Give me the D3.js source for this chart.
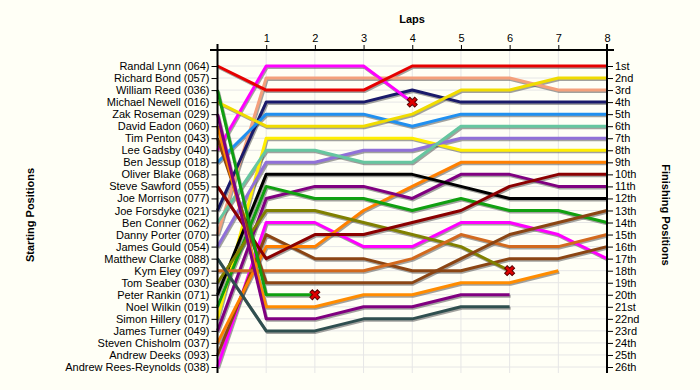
<!DOCTYPE html>
<html>
<head>
<meta charset="utf-8">
<script src="https://cdn.jsdelivr.net/npm/d3@7"></script>
<style>
  body { margin: 0; background: #fffff6; }
  text { font-family: "Liberation Sans", Arial, sans-serif; font-size: 11px; fill: #000; }
  .title { font-weight: bold; }
</style>
</head>
<body>
<svg id="chart" width="700" height="390"></svg>
<script>
// lap numbers on the top axis
const laps = [0, 1, 2, 3, 4, 5, 6, 7, 8];

const starters = [
  "Randal Lynn (064)", "Richard Bond (057)", "William Reed (036)", "Michael Newell (016)",
  "Zak Roseman (029)", "David Eadon (060)", "Tim Penton (043)", "Lee Gadsby (040)",
  "Ben Jessup (018)", "Oliver Blake (068)", "Steve Sawford (055)", "Joe Morrison (077)",
  "Joe Forsdyke (021)", "Ben Conner (062)", "Danny Porter (070)", "James Gould (054)",
  "Matthew Clarke (088)", "Kym Eley (097)", "Tom Seaber (030)", "Peter Rankin (071)",
  "Noel Wilkin (019)", "Simon Hillery (017)", "James Turner (049)", "Steven Chisholm (037)",
  "Andrew Deeks (093)", "Andrew Rees-Reynolds (038)"
];

const finishLabels = [
  "1st", "2nd", "3rd", "4th", "5th", "6th", "7th", "8th", "9th", "10th", "11th", "12th", "13th",
  "14th", "15th", "16th", "17th", "18th", "19th", "20th", "21st", "22nd", "23rd", "24th", "25th", "26th"
];

// position of each starter at the end of each lap (index = lap), same order as starters
const lapPositions = [
  [1, 3, 3, 3, 1, 1, 1, 1, 1],
  [2],
  [3, 20, 20],
  [4, 6, 6, 6, 5, 3, 3, 2, 2],
  [5, 22, 22, 21, 21, 20, 20],
  [6, 21, 21, 20, 20, 19, 19, 18],
  [7, 19, 19, 19, 19, 17, 15, 14, 13],
  [8, 1, 1, 1, 4],
  [9, 5, 5, 5, 6, 5, 5, 5, 5],
  [10],
  [11, 17, 15, 15, 14, 13, 11, 10, 10],
  [12],
  [13, 4, 4, 4, 3, 4, 4, 4, 4],
  [14, 8, 8, 9, 9, 6, 6, 6, 6],
  [15, 2, 2, 2, 2, 2, 2, 3, 3],
  [16, 9, 9, 8, 8, 7, 7, 7, 7],
  [17, 23, 23, 22, 22, 21, 21],
  [18, 18, 18, 18, 17, 15, 16, 16, 15],
  [19, 13, 13, 14, 15, 16, 18],
  [20, 10, 10, 10, 10, 11, 12, 12, 12],
  [21, 11, 12, 12, 13, 12, 13, 13, 14],
  [22, 7, 7, 7, 7, 8, 8, 8, 8],
  [23, 12, 11, 11, 12, 10, 10, 11, 11],
  [24, 16, 16, 13, 11, 9, 9, 9, 9],
  [25, 15, 17, 17, 18, 18, 17, 17, 16],
  [26, 14, 14, 16, 16, 14, 14, 15, 17]
];

// starters whose race ended with a crash marker on their last lap
const retired = ["William Reed (036)", "Lee Gadsby (040)", "Tom Seaber (030)"];

const lineColors = [
  "#e60000", "#999999", "#10a010", "#f0dc00", "#800080", "#ff8c00", "#8b4513", "#ff00ff",
  "#2090f0", "#999999", "#8b0000", "#999999", "#1a1a6a", "#66c6a0", "#f4a07c", "#9070d8",
  "#2f4f4f", "#d2691e", "#808000", "#000000", "#10a010", "#ffee00", "#800080", "#ff8000",
  "#8b4513", "#ff00ff"
];

const svg = d3.select("#chart");
svg.append("rect").attr("width", 700).attr("height", 390).attr("fill", "#fffff6");

const x = d3.scaleLinear().domain([0, 8]).range([217.5, 607]);
const y = d3.scaleLinear().domain([1, 26]).range([66, 367]);
const plotTop = 50, plotBottom = 373;

// grid
const grid = svg.append("g").attr("stroke", "#e6e6e6").attr("stroke-width", 1);
grid.selectAll("line.v").data(laps.slice(1, -1)).enter().append("line")
  .attr("x1", d => x(d)).attr("x2", d => x(d)).attr("y1", plotTop).attr("y2", plotBottom);
grid.selectAll("line.h").data(d3.range(1, 27)).enter().append("line")
  .attr("x1", x(0)).attr("x2", x(8)).attr("y1", d => y(d)).attr("y2", d => y(d));

// race lines
const line = d3.line()
  .x((d, i) => x(i))
  .y(d => y(d));

const drivers = starters.map((name, i) => ({ name, pos: lapPositions[i], color: lineColors[i] }))
  .filter(d => d.pos.length > 1);

const shadowG = svg.append("g").attr("transform", "translate(1,1.5)");
shadowG.selectAll("path").data(drivers).enter().append("path")
  .attr("d", d => line(d.pos))
  .attr("fill", "none").attr("stroke", "#555").attr("stroke-opacity", 0.55)
  .attr("stroke-width", 3).attr("stroke-linejoin", "round");

const linesG = svg.append("g");
// draw from the back of the field forward so the leaders sit on top
linesG.selectAll("path").data(drivers.slice().reverse()).enter().append("path")
  .attr("d", d => line(d.pos))
  .attr("fill", "none").attr("stroke", d => d.color)
  .attr("stroke-width", 3).attr("stroke-linejoin", "round");

// crash markers
const crashes = drivers.filter(d => retired.includes(d.name))
  .map(d => ({ lap: d.pos.length - 1, p: d.pos[d.pos.length - 1] }));
svg.append("g").selectAll("path").data(crashes).enter().append("path")
  .attr("transform", d => `translate(${x(d.lap)},${y(d.p)}) rotate(45)`)
  .attr("d", d3.symbol(d3.symbolCross, 62))
  .attr("fill", "#e00000").attr("stroke", "#5a0000").attr("stroke-width", 1);

// axes
const topAxis = d3.axisTop(x).tickValues(laps.slice(1)).tickSize(5).tickSizeOuter(0).tickPadding(3);
const gt = svg.append("g").attr("transform", `translate(0,${plotTop})`).call(topAxis);
gt.select(".domain").attr("d", `M210,0H614`).attr("stroke-width", 2);

const yStart = d3.scalePoint().domain(starters).range([66, 367]);
const yFinish = d3.scalePoint().domain(finishLabels).range([66, 367]);

const gl = svg.append("g").attr("transform", `translate(${x(0)},0)`)
  .call(d3.axisLeft(yStart).tickSize(6).tickSizeOuter(0).tickPadding(2));
gl.select(".domain").attr("d", `M0,${plotTop - 6}V${plotBottom}`).attr("stroke-width", 2);

const gr = svg.append("g").attr("transform", `translate(${x(8)},0)`)
  .call(d3.axisRight(yFinish).tickSize(6).tickSizeOuter(0).tickPadding(2));
gr.select(".domain").attr("d", `M0,${plotTop - 6}V${plotBottom}`).attr("stroke-width", 2);

svg.selectAll(".tick text").attr("font-family", null).attr("font-size", null);

// titles
svg.append("text").attr("class", "title").attr("x", 412).attr("y", 23)
  .attr("text-anchor", "middle").text("Laps");
svg.append("text").attr("class", "title")
  .attr("transform", "translate(34,215) rotate(-90)")
  .attr("text-anchor", "middle").text("Starting Positions");
svg.append("text").attr("class", "title")
  .attr("transform", "translate(662,215) rotate(90)")
  .attr("text-anchor", "middle").text("Finishing Positions");
</script>
</body>
</html>
